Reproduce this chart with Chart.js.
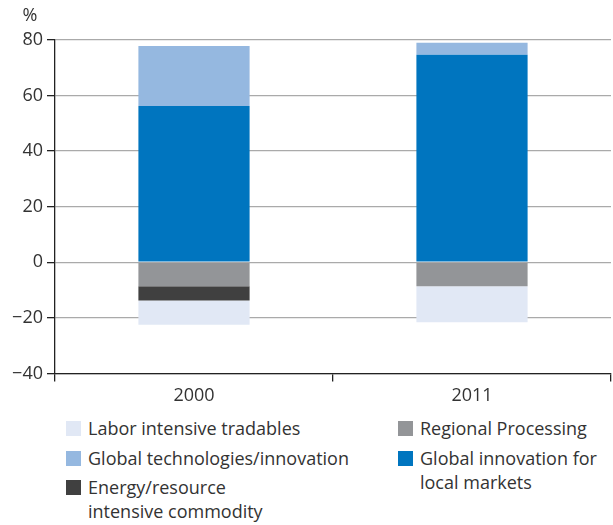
<!DOCTYPE html>
<html>
<head>
<meta charset="utf-8">
<script src="https://cdn.jsdelivr.net/npm/chart.js@4/dist/chart.umd.min.js"></script>
<style>
  html, body { margin: 0; padding: 0; background: #fff; }
  body { width: 613px; height: 525px; position: relative; overflow: hidden; font-family: "Open Sans", sans-serif; color: #333; }
  #wrap { position: absolute; left: 0; top: 0; width: 613px; height: 411px; }
  #legend { position: absolute; left: 0; top: 416px; width: 613px; height: 109px; }
  .item { position: absolute; display: flex; align-items: flex-start; font-size: 18px; line-height: 24px; color: #333; }
  .box { width: 15px; height: 15px; margin-top: 5px; margin-right: 7px; flex: none; }
</style>
</head>
<body>
<div id="wrap"><canvas id="c" width="613" height="411"></canvas></div>
<div id="legend"></div>
<script>
const categories = ["2000", "2011"];
const regionalProcessing = [-8.6, -8.6];
const energyCommodity = [-5.2, 0];
const laborTradables = [-8.7, -13.0];
const globalLocal = [56.2, 74.7];
const globalTech = [21.6, 4.3];
const yTicks = [80, 60, 40, 20, 0, -20, -40];

const seriesNames = {
  labor: "Labor intensive tradables",
  tech: "Global technologies/innovation",
  energy: "Energy/resource\nintensive commodity",
  regional: "Regional Processing",
  local: "Global innovation for\nlocal markets"
};
const colors = {
  labor: "#e1e8f5",
  tech: "#95b8e0",
  energy: "#404040",
  regional: "#939598",
  local: "#0075bf"
};

const datasets = [
  { key: "regional", label: seriesNames.regional, data: regionalProcessing, backgroundColor: colors.regional },
  { key: "energy", label: seriesNames.energy, data: energyCommodity, backgroundColor: colors.energy },
  { key: "labor", label: seriesNames.labor, data: laborTradables, backgroundColor: colors.labor },
  { key: "local", label: seriesNames.local, data: globalLocal, backgroundColor: colors.local },
  { key: "tech", label: seriesNames.tech, data: globalTech, backgroundColor: colors.tech }
].map(d => Object.assign(d, { barPercentage: 0.4, categoryPercentage: 1.0, borderWidth: 0 }));

const pctPlugin = {
  id: "pct",
  afterDraw(chart) {
    const ctx = chart.ctx;
    const y = chart.scales.y;
    ctx.save();
    ctx.font = "18px 'Open Sans', sans-serif";
    ctx.fillStyle = "#333";
    ctx.textAlign = "center";
    ctx.textBaseline = "middle";
    ctx.fillText("%", 30, y.top - 24);
    ctx.restore();
  }
};

new Chart(document.getElementById("c"), {
  type: "bar",
  data: { labels: categories, datasets },
  options: {
    responsive: false,
    animation: false,
    layout: { padding: { top: 40, right: 2, left: 0, bottom: 0 } },
    plugins: { legend: { display: false }, tooltip: { enabled: false } },
    scales: {
      x: {
        stacked: true,
        grid: { offset: true, drawOnChartArea: false, drawTicks: true, tickLength: 8, color: "#222", lineWidth: 1.3 },
        border: { color: "#222", width: 1.3 },
        ticks: { color: "#333", font: { family: "'Open Sans', sans-serif", size: 18 }, padding: 4 }
      },
      y: {
        stacked: true,
        min: -40, max: 80,
        afterFit(s) { s.width = 55; },
        afterBuildTicks(s) { s.ticks = yTicks.map(v => ({ value: v })); },
        grid: { color: "#aaaaaa", lineWidth: 1.3, drawTicks: true, tickLength: 8, tickColor: "#222" },
        border: { color: "#222", width: 1.3 },
        ticks: {
          color: "#333", font: { family: "'Open Sans', sans-serif", size: 18 }, padding: 4,
          callback: v => String(v).replace("-", "\u2212")
        }
      }
    }
  },
  plugins: [pctPlugin]
});

// HTML legend built from the datasets
const legendLayout = [
  { key: "labor", x: 66, y: 0 },
  { key: "tech", x: 66, y: 30 },
  { key: "energy", x: 66, y: 59 },
  { key: "regional", x: 398, y: 0 },
  { key: "local", x: 398, y: 30 }
];
const leg = document.getElementById("legend");
legendLayout.forEach(p => {
  const ds = datasets.find(d => d.key === p.key);
  const el = document.createElement("div");
  el.className = "item";
  el.style.left = p.x + "px";
  el.style.top = p.y + "px";
  const b = document.createElement("div");
  b.className = "box";
  b.style.background = ds.backgroundColor;
  const t = document.createElement("div");
  t.innerHTML = ds.label.split("\n").join("<br>");
  el.appendChild(b); el.appendChild(t);
  leg.appendChild(el);
});
</script>
</body>
</html>
